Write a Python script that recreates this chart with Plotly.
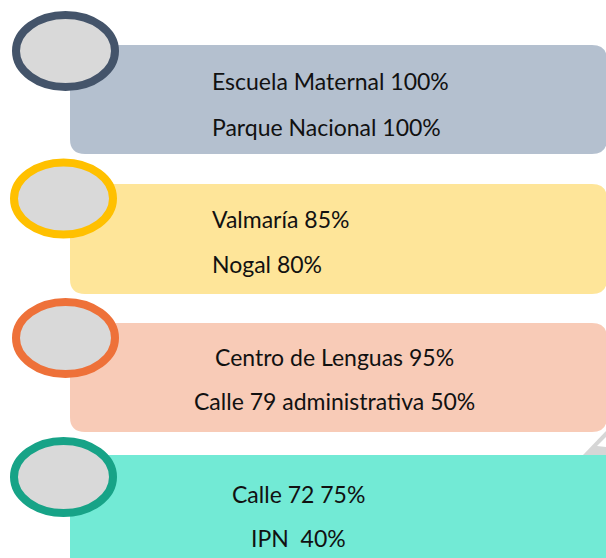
import plotly.graph_objects as go

# data
grupo1 = ["Escuela Maternal", "Parque Nacional"]
avance1 = [100, 100]
grupo2 = ["Valmaría", "Nogal"]
avance2 = [85, 80]
grupo3 = ["Centro de Lenguas", "Calle 79 administrativa"]
avance3 = [95, 50]
grupo4 = ["Calle 72", "IPN\u00a0"]
avance4 = [75, 40]

grupos = [grupo1, grupo2, grupo3, grupo4]
avances = [avance1, avance2, avance3, avance4]

# styling / layout (pixel coords of the page, y downwards)
box_fill = ["#b4c0cf", "#fee599", "#f8cbb7", "#72ead5"]
ring_col = ["#44546a", "#ffc000", "#ee7139", "#17a387"]
box_top = [45, 184, 323, 455]
box_bot = [154, 294, 432, 600]
box_right = [607, 607, 607, 630]
ell_c = [(65.5, 51), (63.5, 198.5), (65.5, 338), (63.5, 477)]
text_y = [(80.5, 126.5), (218.5, 264), (357, 401), (493.5, 538)]
text_x = [210, 210, 334, 298]
text_anchor = ["left", "left", "center", "center"]

W, H = 606, 558


def rounded_rect(x0, y0, x1, y1, r):
    return (f"M {x0 + r},{y0} L {x1 - r},{y0} Q {x1},{y0} {x1},{y0 + r} "
            f"L {x1},{y1 - r} Q {x1},{y1} {x1 - r},{y1} "
            f"L {x0 + r},{y1} Q {x0},{y1} {x0},{y1 - r} "
            f"L {x0},{y0 + r} Q {x0},{y0} {x0 + r},{y0} Z")


fig = go.Figure()
fig.add_trace(go.Scatter(x=[0, W], y=[0, H], mode="markers",
                         marker=dict(opacity=0), hoverinfo="skip",
                         showlegend=False))

shapes = []
# small grey corner peeking out behind the last box
shapes.append(dict(type="path", path="M 583,455 L 606,431 L 606,455 Z",
                   fillcolor="#d6d6d6", line=dict(width=0), layer="below"))
shapes.append(dict(type="path", path="M 597,446 L 606,437 L 606,447 Z",
                   fillcolor="white", line=dict(width=0), layer="below"))

for i in range(4):
    shapes.append(dict(type="path",
                       path=rounded_rect(70, box_top[i], box_right[i],
                                         box_bot[i], 15),
                       fillcolor=box_fill[i], line=dict(width=0),
                       layer="below"))
    cx, cy = ell_c[i]
    shapes.append(dict(type="circle", xref="x", yref="y",
                       x0=cx - 49.5, x1=cx + 49.5, y0=cy - 36, y1=cy + 36,
                       fillcolor="#d9d9d9",
                       line=dict(color=ring_col[i], width=8)))

annotations = []
for i in range(4):
    for j in range(2):
        annotations.append(dict(
            x=text_x[i], y=text_y[i][j], xref="x", yref="y",
            text=f"{grupos[i][j]} {avances[i][j]}%",
            showarrow=False, xanchor=text_anchor[i], yanchor="middle",
            font=dict(family="Lato", size=23, color="#111111")))

fig.update_layout(
    width=W, height=H,
    margin=dict(l=0, r=0, t=0, b=0),
    paper_bgcolor="white", plot_bgcolor="white",
    xaxis=dict(range=[0, W], visible=False, fixedrange=True),
    yaxis=dict(range=[H, 0], visible=False, fixedrange=True),
    shapes=shapes, annotations=annotations,
)

# drop the browser's default body margin so the figure fills the window
fig.write_html("out.html",
               config={"displayModeBar": False},
               post_script="document.body.style.margin='0';"
                           "document.body.style.overflow='hidden';")
